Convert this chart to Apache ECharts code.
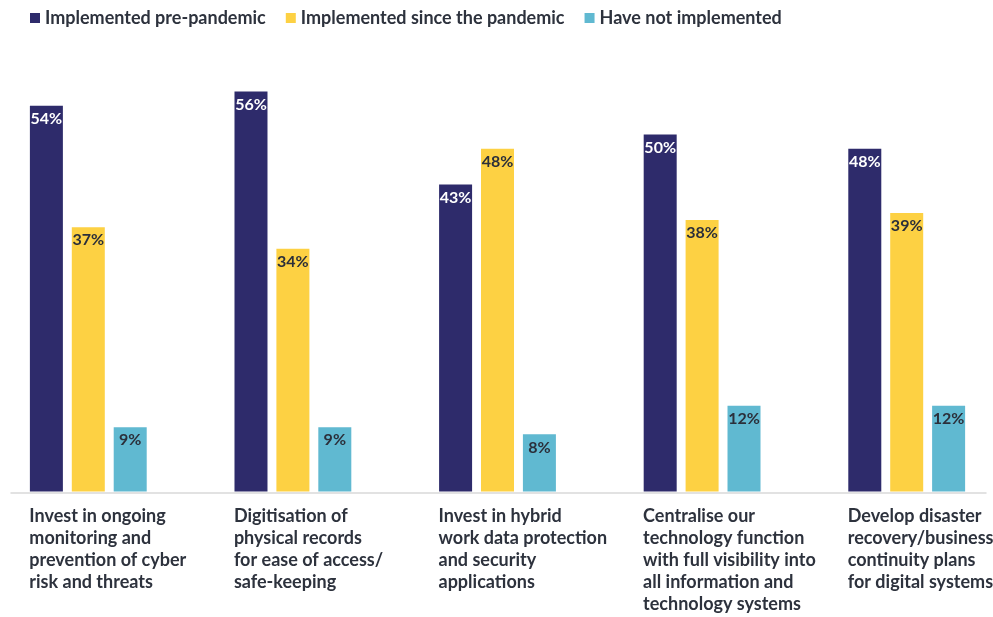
<!DOCTYPE html>
<html>
<head>
<meta charset="utf-8">
<script src="https://cdn.jsdelivr.net/npm/echarts@6/dist/echarts.min.js"></script>
<style>
  html, body { margin: 0; padding: 0; background: #ffffff; }
  #chart { width: 993px; height: 617px; }
</style>
</head>
<body>
<div id="chart"></div>
<script>
// Technology initiatives by implementation timing (share of respondents, %)
const categories = [
  'Invest in ongoing\nmonitoring and\nprevention of cyber\nrisk and threats',
  'Digitisation of\nphysical records\nfor ease of access/\nsafe-keeping',
  'Invest in hybrid\nwork data protection\nand security\napplications',
  'Centralise our\ntechnology function\nwith full visibility into\nall information and\ntechnology systems',
  'Develop disaster\nrecovery/business\ncontinuity plans\nfor digital systems'
];
const seriesNames = ['Implemented pre-pandemic', 'Implemented since the pandemic', 'Have not implemented'];
const prePandemic = [54, 56, 43, 50, 48];
const sincePandemic = [37, 34, 48, 38, 39];
const notImplemented = [9, 9, 8, 12, 12];

const colors = ['#2e2b6b', '#fdd143', '#60b9d1'];
const labelColors = ['#ffffff', '#2b2f3a', '#2b2f3a'];
const textColor = '#2d323d';
const fontFamily = 'Lato, "Noto Sans", sans-serif';

const chart = echarts.init(document.getElementById('chart'));

function barSeries(name, data, idx) {
  return {
    name: name,
    type: 'bar',
    xAxisIndex: 0,
    yAxisIndex: 0,
    data: data,
    barWidth: 33,
    barGap: '27%',
    itemStyle: { color: colors[idx] },
    label: {
      show: true,
      position: 'insideTop',
      distance: 5,
      formatter: '{c}%',
      color: labelColors[idx],
      fontFamily: fontFamily,
      fontWeight: 'bold',
      fontSize: 16
    }
  };
}

chart.setOption({
  animation: false,
  backgroundColor: '#ffffff',
  textStyle: { fontFamily: fontFamily },
  legend: {
    left: 25,
    top: 4,
    icon: 'rect',
    itemWidth: 10,
    itemHeight: 10,
    itemGap: 20,
    data: seriesNames,
    textStyle: {
      color: textColor,
      fontFamily: fontFamily,
      fontWeight: 'bold',
      fontSize: 18
    }
  },
  grid: [
    { left: -14, right: -16, top: 63, bottom: 125.5, outerBoundsMode: 'none' },
    { left: 11, right: 7, top: 63, bottom: 124.5, outerBoundsMode: 'none' }
  ],
  xAxis: [
    {
      type: 'category',
      gridIndex: 0,
      data: categories,
      axisLine: { show: false },
      axisTick: { show: false },
      axisLabel: {
        interval: 0,
        margin: 14,
        color: textColor,
        formatter: function (value) {
          return value.split('\n').map(function (line) { return '{a|' + line + '}'; }).join('\n');
        },
        rich: {
          a: {
            width: 118,
            align: 'left',
            lineHeight: 22,
            fontSize: 18,
            fontWeight: 'bold',
            fontFamily: fontFamily,
            color: textColor
          }
        }
      }
    },
    {
      type: 'value',
      gridIndex: 1,
      min: 0,
      max: 1,
      axisLine: { show: true, lineStyle: { color: '#d9d9d9', width: 1.5 } },
      axisTick: { show: false },
      axisLabel: { show: false },
      splitLine: { show: false }
    }
  ],
  yAxis: [
    {
      type: 'value',
      gridIndex: 0,
      min: 0,
      max: 60,
      show: false
    },
    {
      type: 'value',
      gridIndex: 1,
      min: 0,
      max: 60,
      show: false
    }
  ],
  series: [
    barSeries(seriesNames[0], prePandemic, 0),
    barSeries(seriesNames[1], sincePandemic, 1),
    barSeries(seriesNames[2], notImplemented, 2)
  ]
});
</script>
</body>
</html>
